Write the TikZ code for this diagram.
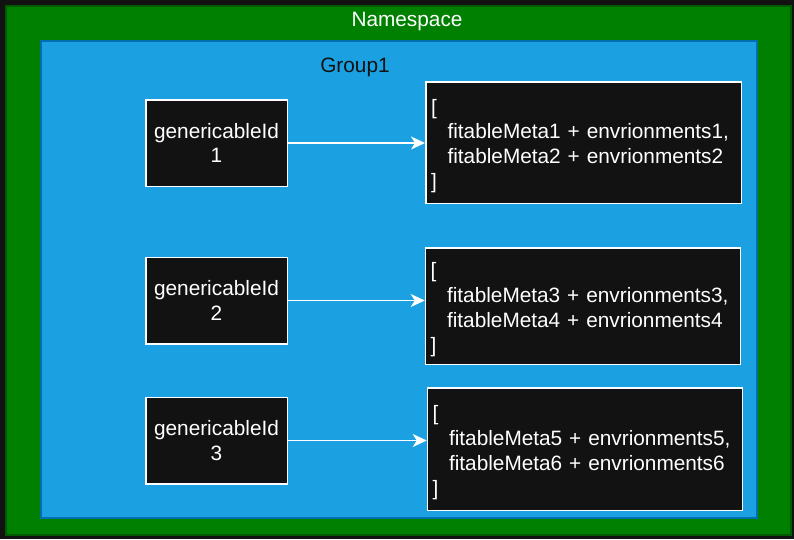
\documentclass[tikz,border=0pt]{standalone}
\usepackage{fontspec}
\setmainfont{Liberation Sans}
\usetikzlibrary{arrows.meta}
\definecolor{bgdark}{HTML}{121212}
\definecolor{nsgreen}{HTML}{008000}
\definecolor{nsgreenline}{HTML}{005A00}
\definecolor{grpblue}{HTML}{1BA1E2}
\definecolor{grpblueline}{HTML}{006EAF}
\definecolor{boxfill}{HTML}{121212}
\newcommand{\topstrut}{\rule{0pt}{22pt}}
\begin{document}
\begin{tikzpicture}[x=1pt,y=-1pt,
 lbl/.style={font=\fontsize{20.8}{24.8}\selectfont},
 idbox/.style={draw=white, line width=1.5pt, fill=boxfill, text=white, minimum width=141.5pt, minimum height=86.5pt, inner sep=0pt, align=center, lbl},
 listbox/.style={draw=white, line width=1.5pt, fill=boxfill, text=white, inner xsep=5pt, inner ysep=0pt, text width=305pt, align=left, lbl},
 link/.style={draw=white, line width=1.8pt, -{Stealth[length=14pt,width=13pt,inset=4pt]}}
]
\useasboundingbox (0,0) rectangle (794,539);
\node[fill=bgdark, minimum width=794pt, minimum height=539pt, inner sep=0pt] (bg) at (397,269.5) {};
\node[fill=nsgreen, draw=nsgreenline, line width=2pt, minimum width=785pt, minimum height=529pt, inner sep=0pt] (ns) at (398.5,270) {};
\node[fill=grpblue, draw=grpblueline, line width=2pt, minimum width=716pt, minimum height=477pt, inner sep=0pt] (grp) at (399,279.5) {};
\node[lbl, text=white] (nslabel) at (407,21) {Namespace};
\node[lbl, text=bgdark] (grplabel) at (355,67) {Group1};

\node[idbox] (id1) at (216.5,143) {genericableId\\1};
\node[idbox] (id2) at (216.5,300.5) {genericableId\\2};
\node[idbox] (id3) at (216.5,440.5) {genericableId\\3};

\node[listbox, minimum width=315.5pt, minimum height=121.5pt] (b1) at (583.5,142.5) {\topstrut[\\\hspace*{16.5pt}fitableMeta1 + envrionments1,\\\hspace*{16.5pt}fitableMeta2 + envrionments2\\]};
\node[listbox, minimum width=315pt, minimum height=116.5pt] (b2) at (583,306) {\topstrut[\\\hspace*{16.5pt}fitableMeta3 + envrionments3,\\\hspace*{16.5pt}fitableMeta4 + envrionments4\\]};
\node[listbox, minimum width=315pt, minimum height=122.5pt] (b3) at (585,449) {\topstrut[\\\hspace*{16.5pt}fitableMeta5 + envrionments5,\\\hspace*{16.5pt}fitableMeta6 + envrionments6\\]};

\draw[link] (id1.east) -- (id1.east -| b1.west);
\draw[link] (id2.east) -- (id2.east -| b2.west);
\draw[link] (id3.east) -- (id3.east -| b3.west);
\end{tikzpicture}
\end{document}
